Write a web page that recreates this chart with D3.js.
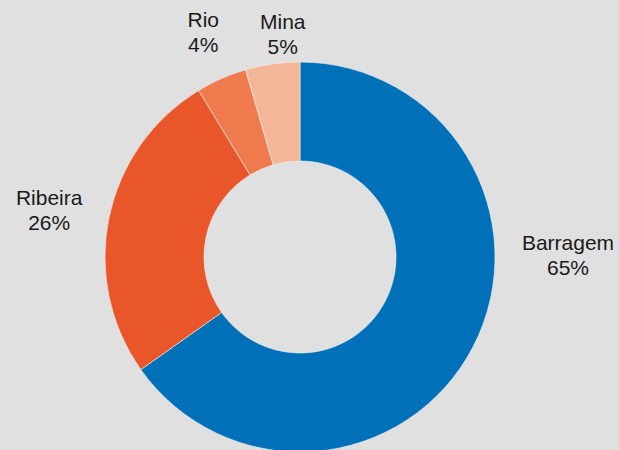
<!DOCTYPE html>
<html>
<head>
<meta charset="utf-8">
<script src="https://cdn.jsdelivr.net/npm/d3@7"></script>
<style>
  html, body { margin: 0; padding: 0; background: #e0e0e0; }
  svg { display: block; }
  .lbl { font-family: "Liberation Sans", Arial, sans-serif; font-size: 21px; fill: #1a1a1a; }
</style>
</head>
<body>
<svg id="chart"></svg>
<script>
// data, clockwise from 12 o'clock (shares in %, labels show them rounded)
const CATEGORIES = ['Barragem', 'Ribeira', 'Rio', 'Mina'];
const SHARES = [65.2, 26.1, 4.2, 4.5];
const COLORS = ['#0070b8', '#e8562a', '#ef7a4e', '#f5b698'];

const W = 619, H = 450;
const cx = 300, cy = 257;
const rOuter = 195, rInner = 96;

const svg = d3.select('#chart').attr('width', W).attr('height', H);

const color = d3.scaleOrdinal().domain(CATEGORIES).range(COLORS);
const pie = d3.pie().sort(null).value(d => d.v);
const arc = d3.arc().innerRadius(rInner).outerRadius(rOuter);
const labelArc = d3.arc().innerRadius(250).outerRadius(250);

const rows = CATEGORIES.map((c, i) => ({ c, v: SHARES[i] }));
const arcs = pie(rows);

const g = svg.append('g').attr('transform', `translate(${cx},${cy})`);

g.selectAll('path')
  .data(arcs)
  .join('path')
  .attr('d', arc)
  .attr('fill', d => color(d.data.c))
  .attr('stroke', '#f2f2f2')
  .attr('stroke-width', 0.6);

// label placement roughly like the spreadsheet's "best fit"
const nudge = {
  Barragem: [0, 0, 268],   // pinned to the right of the ring
  Ribeira: [-6, 3],
  Rio: [4, 3],
  Mina: [18, 24]
};

const labels = g.selectAll('text')
  .data(arcs)
  .join('text')
  .attr('class', 'lbl')
  .attr('text-anchor', 'middle')
  .attr('transform', d => {
    let [x, y] = labelArc.centroid(d);
    const n = nudge[d.data.c] || [0, 0];
    if (n.length === 3) { x = n[2]; y = -3; }
    return `translate(${x + n[0]},${y + n[1]})`;
  });

labels.append('tspan')
  .attr('x', 0)
  .attr('dy', -4)
  .text(d => d.data.c);
labels.append('tspan')
  .attr('x', 0)
  .attr('dy', 25)
  .text(d => Math.round(d.data.v) + '%');
</script>
</body>
</html>
